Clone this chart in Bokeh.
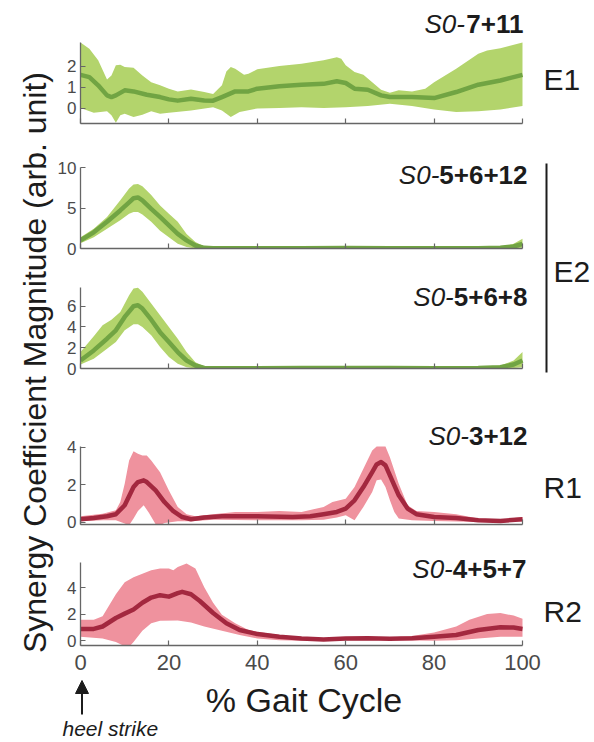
import math
from bokeh.plotting import figure
from bokeh.layouts import row, column
from bokeh.models import Label, Arrow, NormalHead, FixedTicker, Range1d
from bokeh.embed import file_html
from bokeh.resources import INLINE

# ---------------- data ----------------
gait_ticks = [0, 20, 40, 60, 80, 100]

# E1 : S0-7+11
e1_mean_x = [0, 2, 4, 6, 7, 8, 10, 12, 15, 18, 20, 22, 25, 28, 30, 32, 35, 38, 40, 45, 50, 55, 58, 60, 62, 65, 68, 70, 75, 80, 85, 90, 95, 100]
e1_mean = [1.6, 1.49, 1.1, 0.62, 0.54, 0.62, 0.86, 0.81, 0.65, 0.54, 0.43, 0.37, 0.46, 0.38, 0.37, 0.54, 0.81, 0.81, 0.94, 1.05, 1.13, 1.17, 1.29, 1.21, 0.94, 0.89, 0.62, 0.54, 0.54, 0.49, 0.78, 1.13, 1.33, 1.6]
e1_upper_x = [0, 2, 4, 6, 7, 8, 9, 10, 12, 14, 16, 18, 20, 22, 25, 28, 30, 32, 33, 34, 35, 37, 38, 40, 45, 50, 55, 58, 59, 60, 62, 64, 66, 68, 70, 72, 75, 78, 80, 85, 90, 92, 95, 100]
e1_upper = [3.14, 2.84, 2.29, 1.38, 1.57, 2.05, 2.08, 1.97, 1.94, 1.57, 1.25, 1.1, 0.94, 0.81, 0.9, 0.78, 0.68, 1.1, 1.76, 1.97, 1.89, 1.6, 1.65, 1.86, 2.02, 2.13, 2.29, 2.44, 2.37, 2.05, 1.73, 1.6, 1.25, 0.89, 0.75, 0.86, 0.81, 0.94, 1.25, 1.89, 2.6, 2.76, 2.87, 3.14]
e1_lower_x = [0, 3, 6, 7, 8, 9, 10, 12, 14, 16, 18, 20, 25, 30, 32, 34, 36, 40, 45, 50, 55, 60, 65, 70, 75, 80, 85, 90, 95, 100]
e1_lower = [0.02, -0.21, -0.14, -0.33, -0.68, -0.33, -0.25, -0.41, -0.3, -0.14, -0.25, -0.21, -0.1, 0.06, -0.1, -0.41, -0.17, 0.0, 0.02, 0.06, 0.02, 0.06, 0.11, 0.22, 0.11, -0.05, -0.17, -0.14, -0.05, 0.11]

# E2 (a) : S0-5+6+12
e2a_mean_x = [0, 3, 6, 9, 11, 12, 13, 14, 16, 18, 20, 22, 24, 26, 28, 30, 40, 50, 60, 70, 80, 90, 95, 98, 100]
e2a_mean = [1.0, 2.0, 3.3, 4.7, 5.7, 6.2, 6.3, 5.95, 4.9, 3.9, 2.85, 1.8, 1.0, 0.37, 0.08, 0.02, 0.03, 0.04, 0.05, 0.04, 0.03, 0.04, 0.08, 0.25, 0.58]
e2a_upper_x = [0, 3, 6, 9, 11, 12, 13, 14, 16, 18, 20, 22, 24, 26, 28, 30, 40, 50, 60, 70, 80, 90, 95, 98, 100]
e2a_upper = [1.4, 2.45, 3.9, 5.95, 7.4, 7.9, 7.95, 7.7, 6.6, 5.3, 4.3, 3.3, 1.8, 0.8, 0.25, 0.1, 0.08, 0.09, 0.12, 0.1, 0.08, 0.1, 0.17, 0.58, 1.2]
e2a_lower_x = [0, 3, 6, 9, 11, 12, 13, 14, 16, 18, 20, 22, 24, 26, 28, 30, 40, 50, 60, 70, 80, 90, 95, 98, 100]
e2a_lower = [0.66, 1.4, 2.45, 3.5, 4.3, 4.5, 4.5, 4.2, 3.3, 2.2, 1.4, 0.58, 0.17, 0.0, 0.0, 0.0, 0.0, 0.0, 0.0, 0.0, 0.0, 0.0, 0.0, 0.02, 0.08]

# E2 (b) : S0-5+6+8
e2b_mean_x = [0, 3, 6, 8, 10, 12, 13, 14, 16, 18, 20, 22, 24, 26, 28, 30, 40, 50, 60, 70, 80, 90, 95, 98, 100]
e2b_mean = [0.77, 1.74, 2.87, 3.68, 4.97, 6.0, 6.1, 5.77, 4.7, 3.5, 2.55, 1.58, 0.77, 0.29, 0.06, 0.03, 0.03, 0.04, 0.05, 0.04, 0.03, 0.04, 0.13, 0.39, 0.77]
e2b_upper_x = [0, 3, 5, 7, 9, 11, 12, 13, 14, 16, 18, 20, 22, 24, 26, 28, 30, 40, 50, 60, 70, 80, 90, 95, 98, 100]
e2b_upper = [1.58, 3.1, 4.16, 4.7, 5.45, 7.06, 7.7, 7.77, 7.4, 6.26, 5.13, 4.0, 2.87, 1.58, 0.61, 0.19, 0.1, 0.09, 0.1, 0.12, 0.1, 0.09, 0.1, 0.29, 0.77, 1.58]
e2b_lower_x = [0, 3, 6, 8, 10, 12, 13, 14, 16, 18, 20, 22, 24, 26, 30, 40, 50, 60, 70, 80, 90, 95, 98, 100]
e2b_lower = [0.39, 0.94, 1.9, 2.55, 3.68, 4.26, 4.26, 4.0, 3.2, 2.06, 1.1, 0.45, 0.13, 0.0, 0.0, 0.0, 0.0, 0.0, 0.0, 0.0, 0.0, 0.0, 0.05, 0.13]

# R1 : S0-3+12
r1_mean_x = [0, 3, 6, 8, 10, 12, 13, 14.3, 15, 17, 19, 21, 23, 25, 28, 32, 40, 48, 52, 55, 58, 60, 62, 64, 66, 67, 68, 69, 70, 72, 74, 76, 80, 85, 90, 95, 100]
r1_mean = [0.16, 0.23, 0.32, 0.43, 0.91, 1.88, 2.15, 2.24, 2.15, 1.7, 1.08, 0.59, 0.28, 0.16, 0.25, 0.32, 0.32, 0.28, 0.32, 0.43, 0.55, 0.73, 1.17, 1.88, 2.68, 3.09, 3.22, 3.04, 2.51, 1.44, 0.73, 0.43, 0.28, 0.23, 0.11, 0.07, 0.16]
r1_upper_x = [0, 5, 8, 9, 10, 11, 12, 13, 14, 15, 16, 18, 20, 22, 24, 26, 30, 35, 40, 45, 50, 55, 57, 60, 62, 64, 66, 67, 69, 70, 72, 74, 76, 80, 85, 90, 95, 100]
r1_upper = [0.32, 0.46, 0.64, 1.08, 2.06, 3.3, 3.8, 3.66, 3.57, 3.57, 3.3, 2.68, 1.7, 0.82, 0.43, 0.32, 0.43, 0.55, 0.55, 0.6, 0.55, 0.82, 1.08, 1.26, 1.88, 2.86, 3.84, 4.05, 4.05, 3.48, 2.06, 0.91, 0.6, 0.55, 0.43, 0.2, 0.14, 0.28]
r1_lower_x = [0, 5, 8, 10, 11, 12, 13, 14.3, 15.5, 17, 18, 19, 22, 25, 30, 40, 50, 55, 58, 60, 62, 64, 66, 67, 68, 69, 70, 71, 72, 75, 80, 90, 100]
r1_lower = [0.05, 0.11, 0.11, -0.07, -0.16, 0.2, 0.6, 0.91, 0.5, -0.1, -0.16, -0.04, 0.05, 0.05, 0.14, 0.11, 0.11, 0.14, 0.25, 0.37, 0.11, 0.82, 1.62, 2.24, 2.28, 1.88, 1.17, 0.55, 0.2, 0.11, 0.07, 0.02, 0.05]

# R2 : S0-4+5+7
r2_mean_x = [0, 3, 5, 8, 10, 12, 14, 16, 18, 20, 22, 23, 25, 27, 30, 33, 36, 40, 45, 50, 55, 60, 65, 70, 75, 80, 85, 90, 95, 98, 100]
r2_mean = [0.9, 0.9, 1.08, 1.72, 2.05, 2.36, 2.87, 3.26, 3.44, 3.33, 3.59, 3.69, 3.51, 3.0, 2.1, 1.33, 0.82, 0.51, 0.31, 0.18, 0.1, 0.18, 0.2, 0.15, 0.2, 0.31, 0.44, 0.82, 1.03, 1.0, 0.9]
r2_upper_x = [0, 3, 5, 8, 10, 12, 14, 16, 18, 20, 21, 22, 24, 26, 28, 30, 32, 35, 38, 40, 45, 50, 55, 60, 65, 70, 75, 80, 85, 88, 92, 95, 98, 100]
r2_upper = [1.59, 1.59, 1.85, 3.51, 4.41, 4.79, 5.05, 5.31, 5.44, 5.44, 5.31, 5.56, 5.82, 5.44, 4.03, 2.87, 1.97, 1.33, 0.82, 0.69, 0.44, 0.26, 0.15, 0.26, 0.31, 0.26, 0.36, 0.62, 1.08, 1.59, 2.03, 2.1, 1.9, 1.67]
r2_lower_x = [0, 5, 8, 10, 11, 12, 14, 16, 18, 22, 25, 28, 32, 36, 40, 45, 50, 60, 70, 80, 85, 90, 95, 100]
r2_lower = [0.31, 0.18, -0.08, -0.41, -0.46, -0.08, 0.77, 1.33, 1.51, 1.54, 1.38, 1.08, 0.77, 0.44, 0.18, 0.05, 0.0, 0.05, 0.05, 0.0, 0.05, 0.18, 0.31, 0.31]

titles_italic = ["S0-", "S0-", "S0-", "S0-", "S0-"]
titles_bold = ["7+11", "5+6+12", "5+6+8", "3+12", "4+5+7"]
side_labels = ["E1", "E2", "R1", "R2"]
y_label = "Synergy Coefficient Magnitude (arb. unit)"
x_label = "% Gait Cycle"
note = "heel strike"

# ---------------- styling ----------------
FONT = "Liberation Sans"
BG = "#ffffff"
GREEN_BAND, GREEN_LINE = "#b3d46c", "#71a443"
RED_BAND, RED_LINE = "#ef929e", "#a3283f"
AXIS_C = "#666666"
TICK_C = "#4a4a4a"
TXT_C = "#1c1c1c"

FR_L, FR_R = 80.0, 522.0          # pixel position of gait 0 % and 100 %
LEFT_W = 54                        # width of the strip holding the y title
TOP_H = 678                        # height of the panel block (footer below)
BOLD_W = {"+": .584}
W_FULL = 594
W_E2 = 532


def xd(px):
    """page pixel -> gait %"""
    return (px - FR_L) / (FR_R - FR_L) * 100.0


def style_plain(p):
    p.background_fill_color = BG
    p.border_fill_color = BG
    p.outline_line_color = None
    p.grid.visible = False


class Panel:
    """One synergy panel; its frame reaches up to the top of its canvas so that the
    title and side label sit inside it, axes are limited with `bounds`."""

    def __init__(self, fig_top, fig_bot, axis_bot, y0, y1, y_px, yticks, right_px, show_x=False):
        self.bot, self.y0 = axis_bot, y0
        self.ppu = y_px / (y1 - y0)
        h = fig_bot - fig_top
        y_top = y0 + (axis_bot - fig_top) / self.ppu
        w = right_px - LEFT_W
        p = figure(width=w, height=h, x_range=Range1d(0, xd(right_px)), y_range=Range1d(y0, y_top),
                   output_backend="svg", toolbar_location=None,
                   min_border_left=int(FR_L - LEFT_W), min_border_right=0,
                   min_border_top=0, min_border_bottom=int(fig_bot - axis_bot))
        style_plain(p)
        for ax in (p.xaxis[0], p.yaxis[0]):
            ax.axis_line_color = AXIS_C
            ax.axis_line_width = 1.3
            ax.major_tick_line_color = AXIS_C
            ax.major_tick_line_width = 1.2
            ax.major_tick_in = 5
            ax.major_tick_out = 0
            ax.minor_tick_line_color = None
            ax.major_label_text_font = FONT
            ax.major_label_text_color = TICK_C
        p.xaxis.bounds = (0, 100)
        p.yaxis.bounds = (y0, y1)
        p.xaxis.ticker = FixedTicker(ticks=gait_ticks)
        p.yaxis.ticker = FixedTicker(ticks=yticks)
        p.yaxis.major_label_text_font_size = "17px"
        p.yaxis.major_label_standoff = 4
        if show_x:
            p.xaxis.major_label_text_font_size = "22px"
            p.xaxis.major_label_standoff = 9
        else:
            p.xaxis.major_label_text_font_size = "0px"
            p.xaxis.major_label_standoff = 0
        self.p = p

    def yd(self, py):
        return self.y0 + (self.bot - py) / self.ppu

    def curves(self, ux, uy, lx, ly, mx, my, band, line):
        self.p.patch(x=list(ux) + list(lx)[::-1], y=list(uy) + list(ly)[::-1],
                     fill_color=band, line_color=None)
        self.p.line(x=mx, y=my, line_color=line, line_width=4.5, line_join="round")

    def label(self, text, px, py, size, align="left", style="normal"):
        # py = vertical centre of the capitals in page pixels
        self.p.add_layout(Label(x=xd(px), y=self.yd(py), text=text, text_font=FONT,
                                text_font_size=f"{size}px", text_font_style=style,
                                text_color=TXT_C, text_align=align, text_baseline="middle"))

    def title(self, italic, bold, x_end, py, size=26):
        bw = sum(BOLD_W.get(c, .556) for c in bold) * size
        self.label(bold, x_end, py, size, align="right", style="bold")
        self.label(italic, x_end - bw, py, size, align="right", style="italic")


P1 = Panel(0, 150, 123, -0.72, 3.14, 81, [0, 1, 2], W_FULL)
P2 = Panel(150, 259, 248, 0, 10, 81, [0, 5, 10], W_E2)
P3 = Panel(259, 380, 368, 0, 7.8, 81, [0, 2, 4, 6], W_E2)
P4 = Panel(380, 540, 524, -0.12, 4.05, 78, [0, 2, 4], W_FULL)
P5 = Panel(540, TOP_H, 645, -0.35, 5.9, 83, [0, 2, 4], W_FULL, show_x=True)

P1.curves(e1_upper_x, e1_upper, e1_lower_x, e1_lower, e1_mean_x, e1_mean, GREEN_BAND, GREEN_LINE)
P2.curves(e2a_upper_x, e2a_upper, e2a_lower_x, e2a_lower, e2a_mean_x, e2a_mean, GREEN_BAND, GREEN_LINE)
P3.curves(e2b_upper_x, e2b_upper, e2b_lower_x, e2b_lower, e2b_mean_x, e2b_mean, GREEN_BAND, GREEN_LINE)
P4.curves(r1_upper_x, r1_upper, r1_lower_x, r1_lower, r1_mean_x, r1_mean, RED_BAND, RED_LINE)
P5.curves(r2_upper_x, r2_upper, r2_lower_x, r2_lower, r2_mean_x, r2_mean, RED_BAND, RED_LINE)

P1.title(titles_italic[0], titles_bold[0], 523, 23.5)
P2.title(titles_italic[1], titles_bold[1], 527, 174.5)
P3.title(titles_italic[2], titles_bold[2], 527, 296)
P4.title(titles_italic[3], titles_bold[3], 527, 435.5)
P5.title(titles_italic[4], titles_bold[4], 526, 568.5)

P1.label(side_labels[0], 543, 79, 30)
P4.label(side_labels[2], 543, 487, 30)
P5.label(side_labels[3], 543, 611, 30)

# bracket with "E2" to the right of the two E2 panels (page pixels as coordinates)
e2s = figure(width=W_FULL - W_E2, height=380 - 150, x_range=Range1d(W_E2, W_FULL),
             y_range=Range1d(380, 150), output_backend="svg", toolbar_location=None,
             x_axis_location=None, y_axis_location=None, min_border=0)
style_plain(e2s)
e2s.add_layout(Arrow(end=None, x_start=546, y_start=163, x_end=546, y_end=372,
                     line_color=TXT_C, line_width=2))
e2s.add_layout(Label(x=553, y=271, text=side_labels[1], text_font=FONT, text_font_size="30px",
                     text_color=TXT_C, text_align="left", text_baseline="middle"))

# left strip with the shared y-axis title (page pixels as coordinates)
lf = figure(width=LEFT_W, height=TOP_H, x_range=Range1d(0, LEFT_W), y_range=Range1d(TOP_H, 0),
            output_backend="svg", toolbar_location=None,
            x_axis_location=None, y_axis_location=None, min_border=0)
style_plain(lf)
lf.add_layout(Label(x=34, y=362, text=y_label, angle=math.pi / 2,
                    text_font=FONT, text_font_size="32px", text_color=TXT_C,
                    text_align="center", text_baseline="middle"))

# footer across the whole width: x title and heel-strike marker
# x in gait %, y in page pixels
foot = figure(width=W_FULL, height=742 - TOP_H, x_range=Range1d(xd(0), xd(W_FULL)),
              y_range=Range1d(742, TOP_H), output_backend="svg", toolbar_location=None,
              x_axis_location=None, y_axis_location=None, min_border=0)
style_plain(foot)
foot.add_layout(Label(x=xd(303.5), y=699.5, text=x_label, text_font=FONT, text_font_size="34px",
                      text_color=TXT_C, text_align="center", text_baseline="middle"))
foot.add_layout(Label(x=xd(62), y=728, text=note, text_font=FONT, text_font_size="21px",
                      text_font_style="italic", text_color=TXT_C, text_align="left",
                      text_baseline="middle"))
foot.add_layout(Arrow(end=NormalHead(size=13, fill_color=TXT_C, line_color=TXT_C),
                      x_start=0.34, y_start=714, x_end=0.34, y_end=680,
                      line_color=TXT_C, line_width=2))

e2_block = row(column(P2.p, P3.p, spacing=0), e2s, spacing=0)
panels = column(P1.p, e2_block, P4.p, P5.p, spacing=0)
layout = column(row(lf, panels, spacing=0), foot, spacing=0)

open("out.html", "w").write(file_html(layout, INLINE))
